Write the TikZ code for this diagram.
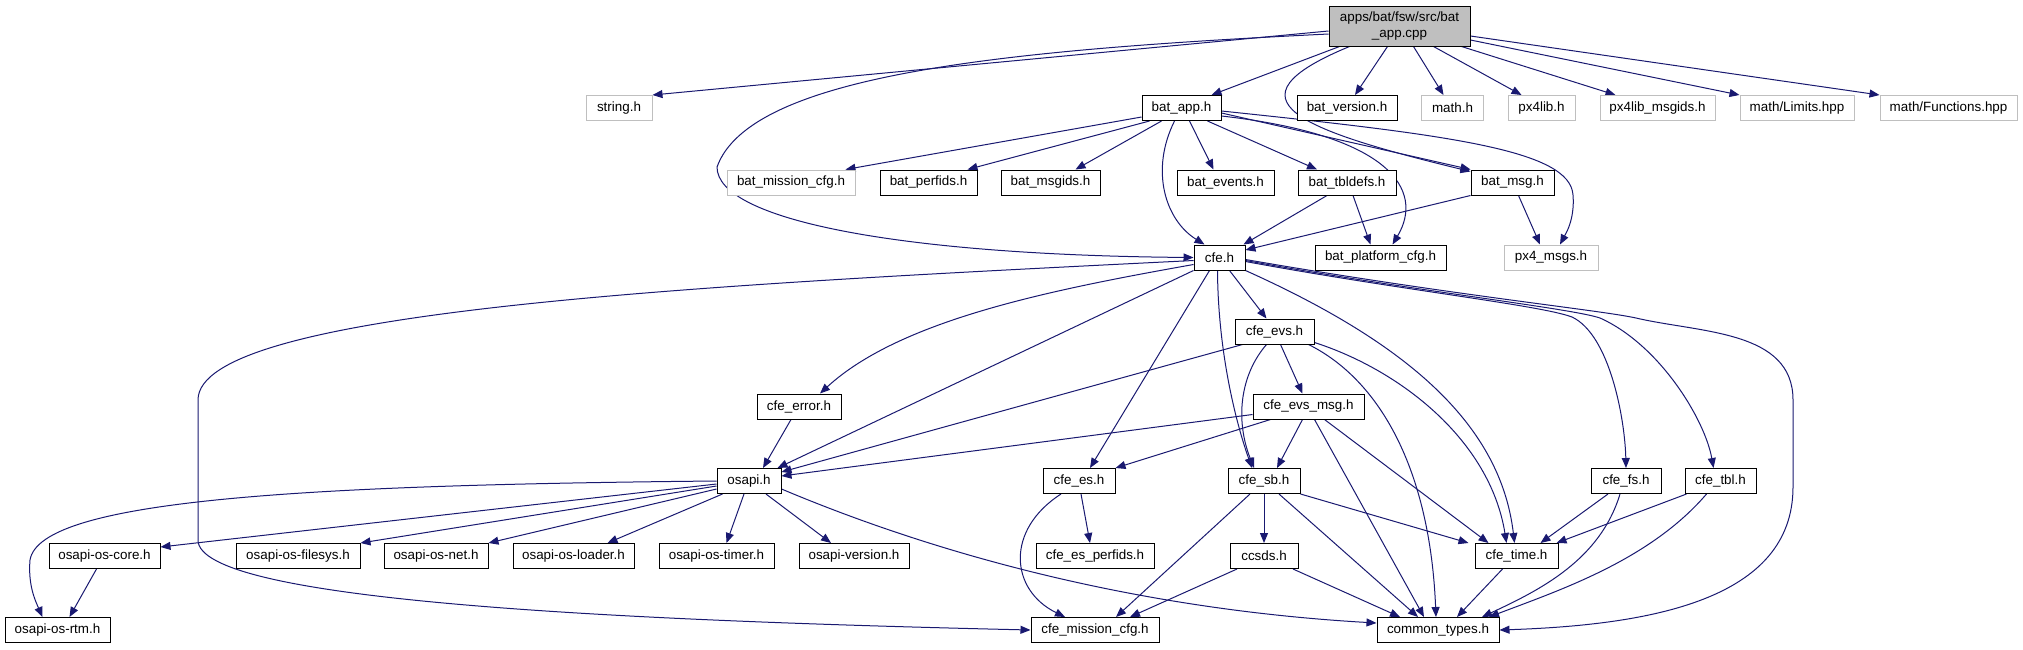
\documentclass[tikz,border=0pt]{standalone}
\usepackage{fontspec}
\setmainfont{Liberation Sans}
\usetikzlibrary{arrows.meta,backgrounds}
\definecolor{edgeblue}{HTML}{191970}
\definecolor{extgray}{HTML}{BFBFBF}

\begin{document}
\begin{tikzpicture}[x=0.5pt,y=-0.5pt,>={Triangle[length=5pt,width=4pt]},
  hfile/.style={draw=black,fill=white,line width=0.5pt,inner sep=0pt,
    minimum height=12.5pt,font=\fontsize{6.7}{8}\selectfont},
  extfile/.style={hfile,draw=extgray},
  rootfile/.style={hfile,fill=extgray,align=center,minimum height=20pt},
  bw/.style={minimum width=#1*0.5pt},
  inc/.style={->,edgeblue,line width=0.5pt}]
  \useasboundingbox (0,0) rectangle (2023,649);

  \node[rootfile,bw=141] (cpp) at (1399.5,26) {apps/bat/fsw/src/bat\\\_app.cpp};

  \node[extfile,bw=66] (string) at (619,108) {string.h};
  \node[hfile,bw=79] (batapp) at (1181.5,108) {bat\_app.h};
  \node[hfile,bw=100] (batver) at (1347,108) {bat\_version.h};
  \node[extfile,bw=62] (mathh) at (1452.5,108) {math.h};
  \node[extfile,bw=67] (pxlib) at (1541.5,108) {px4lib.h};
  \node[extfile,bw=115] (pxmsgids) at (1657.5,108) {px4lib\_msgids.h};
  \node[extfile,bw=114] (limits) at (1797,108) {math/Limits.hpp};
  \node[extfile,bw=137] (functions) at (1948.5,108) {math/Functions.hpp};

  \node[extfile,bw=128] (misscfg) at (791,182.5) {bat\_mission\_cfg.h};
  \node[hfile,bw=97] (perfids) at (928.5,182.5) {bat\_perfids.h};
  \node[hfile,bw=99] (msgids) at (1050.5,182.5) {bat\_msgids.h};
  \node[hfile,bw=97] (events) at (1225.5,182.5) {bat\_events.h};
  \node[hfile,bw=98] (tbldefs) at (1347,182.5) {bat\_tbldefs.h};
  \node[hfile,bw=83] (batmsg) at (1512.5,182.5) {bat\_msg.h};

  \node[hfile,bw=51] (cfe) at (1219.5,257.5) {cfe.h};
  \node[hfile,bw=131] (platcfg) at (1380.5,257.5) {bat\_platform\_cfg.h};
  \node[extfile,bw=94] (pxmsgs) at (1551,257.5) {px4\_msgs.h};
  \node[hfile,bw=79] (cfeevs) at (1274.5,331.5) {cfe\_evs.h};
  \node[hfile,bw=84] (cfeerror) at (799,406.5) {cfe\_error.h};
  \node[hfile,bw=111] (evsmsg) at (1308.5,406.5) {cfe\_evs\_msg.h};

  \node[hfile,bw=64] (osapi) at (749,481) {osapi.h};
  \node[hfile,bw=72] (cfees) at (1079,481) {cfe\_es.h};
  \node[hfile,bw=72] (cfesb) at (1264,481) {cfe\_sb.h};
  \node[hfile,bw=70] (cfefs) at (1626,481) {cfe\_fs.h};
  \node[hfile,bw=71] (cfetbl) at (1720.5,481) {cfe\_tbl.h};

  \node[hfile,bw=111] (oscore) at (104.5,556) {osapi-os-core.h};
  \node[hfile,bw=124] (osfilesys) at (298,556) {osapi-os-filesys.h};
  \node[hfile,bw=104] (osnet) at (436,556) {osapi-os-net.h};
  \node[hfile,bw=121] (osloader) at (573.5,556) {osapi-os-loader.h};
  \node[hfile,bw=115] (ostimer) at (716.5,556) {osapi-os-timer.h};
  \node[hfile,bw=110] (osversion) at (854,556) {osapi-version.h};
  \node[hfile,bw=118] (esperfids) at (1095,556) {cfe\_es\_perfids.h};
  \node[hfile,bw=68] (ccsds) at (1264,556) {ccsds.h};
  \node[hfile,bw=83] (cfetime) at (1516.5,556) {cfe\_time.h};

  \node[hfile,bw=105] (osrtm) at (57.5,630) {osapi-os-rtm.h};
  \node[hfile,bw=128] (cfgmission) at (1095,630) {cfe\_mission\_cfg.h};
  \node[hfile,bw=122] (common) at (1438,630) {common\_types.h};

  \begin{scope}[on background layer]
  % from the source file
  \draw[inc] ([yshift=-2.5pt]cpp.west) -- (string.north east);
  \draw[inc] ([yshift=-4pt]cpp.west) .. controls (1000,50) and (750,75) .. (717,167)
    .. controls (717,220) and (900,255) .. (cfe.west);
  \draw[inc] ([xshift=-30pt]cpp.south) -- ([xshift=15pt]batapp.north);
  \draw[inc] ([xshift=-6pt]cpp.south) -- ([xshift=4pt]batver.north);
  \draw[inc] ([xshift=7pt]cpp.south) -- ([xshift=-4.5pt]mathh.north);
  \draw[inc] ([xshift=17pt]cpp.south) -- ([xshift=-10pt]pxlib.north);
  \draw[inc] ([xshift=31pt]cpp.south) -- ([xshift=-21pt]pxmsgids.north);
  \draw[inc] ([yshift=-7pt]cpp.east) -- (limits.north west);
  \draw[inc] ([yshift=-5pt]cpp.east) -- (functions.north west);
  \draw[inc] ([xshift=-25pt]cpp.south) .. controls (1220,100) and (1300,130)
    .. ([yshift=-1pt]batmsg.north west);

  \draw[inc] ([yshift=-4.5pt]batapp.west) -- ([xshift=-5pt]misscfg.north east);
  \draw[inc] ([xshift=-16pt]batapp.south) -- ([xshift=-5pt]perfids.north east);
  \draw[inc] ([xshift=-10pt]batapp.south) -- ([xshift=12.5pt]msgids.north);
  \draw[inc] ([xshift=-3.5pt]batapp.south) .. controls (1150,170) and (1165,220)
    .. ([xshift=-7.5pt]cfe.north);
  \draw[inc] ([xshift=4pt]batapp.south) -- ([xshift=-6pt]events.north);
  \draw[inc] ([xshift=13pt]batapp.south) -- ([xshift=-15pt]tbldefs.north);
  \draw[inc] ([yshift=-2.5pt]batapp.east) -- (batmsg.north west);
  \draw[inc] ([yshift=-4pt]batapp.east) .. controls (1390,135) and (1425,190)
    .. ([xshift=6pt]platcfg.north);
  \draw[inc] ([yshift=-1.5pt]batapp.east) .. controls (1450,135) and (1570,150) .. (1573,195)
    .. controls (1575,220) and (1565,235) .. ([xshift=4.5pt]pxmsgs.north);

  \draw[inc] ([xshift=-10pt]tbldefs.south) -- ([xshift=-1pt]cfe.north east);
  \draw[inc] ([xshift=3pt]tbldefs.south) -- ([xshift=-5pt]platcfg.north);
  \draw[inc] (batmsg.south west) -- ([yshift=3.75pt]cfe.east);
  \draw[inc] ([xshift=3pt]batmsg.south) -- ([xshift=-5.5pt]pxmsgs.north);

  % cfe.h
  \draw[inc] ([xshift=5pt]cfe.south) -- ([xshift=-4pt]cfeevs.north);
  \draw[inc] ([yshift=-3.5pt]cfe.west) .. controls (1050,290) and (900,320)
    .. ([xshift=10.5pt]cfeerror.north);
  \draw[inc] (cfe.south west) -- ([xshift=-2pt]osapi.north east);
  \draw[inc] ([xshift=-5pt]cfe.south) -- ([xshift=5.5pt]cfees.north);
  \draw[inc] ([xshift=-1pt]cfe.south) .. controls (1218,350) and (1235,420)
    .. ([xshift=-6pt]cfesb.north);
  \draw[inc] (cfe.south east) .. controls (1400,340) and (1500,420)
    .. ([xshift=-1pt]cfetime.north);
  \draw[inc] ([yshift=-2pt]cfe.east) .. controls (1400,290) and (1540,305) .. (1572,317)
    .. controls (1610,335) and (1625,420) .. (cfefs.north);
  \draw[inc] ([yshift=-1.5pt]cfe.east) .. controls (1420,292) and (1570,308) .. (1600,318)
    .. controls (1660,345) and (1705,420) .. ([xshift=-3.5pt]cfetbl.north);
  \draw[inc] ([yshift=-1pt]cfe.east) .. controls (1450,295) and (1600,310) .. (1636,318)
    .. controls (1700,333) and (1793,330) .. (1793,400) -- (1793,487)
    .. controls (1793,600) and (1650,625) .. (common.east);
  \draw[inc] ([yshift=-1.5pt]cfe.west) .. controls (700,285) and (198,310) .. (198,400)
    -- (198,540) .. controls (198,600) and (600,620) .. (cfgmission.west);

  \draw[inc] ([xshift=-16pt]cfeevs.south) -- ([yshift=-2pt]osapi.north east);
  \draw[inc] ([xshift=3pt]cfeevs.south) -- ([xshift=-3pt]evsmsg.north);
  \draw[inc] ([xshift=-4pt]cfeevs.south) .. controls (1240,375) and (1235,420)
    .. ([xshift=-5pt]cfesb.north);
  \draw[inc] ([yshift=1pt]cfeevs.south east) .. controls (1400,370) and (1490,440)
    .. ([xshift=-5pt]cfetime.north);
  \draw[inc] ([xshift=-3pt]cfeevs.south east) .. controls (1380,380) and (1430,470)
    .. ([xshift=-1pt]common.north);

  \draw[inc] ([yshift=-4pt]evsmsg.west) -- ([yshift=-4pt]osapi.north east);
  \draw[inc] ([xshift=-19pt]evsmsg.south) -- (cfees.north east);
  \draw[inc] ([xshift=-3pt]evsmsg.south) -- ([xshift=6.5pt]cfesb.north);
  \draw[inc] ([xshift=8pt]evsmsg.south) -- ([xshift=-14pt]cfetime.north);
  \draw[inc] ([xshift=3pt]evsmsg.south) -- ([xshift=-7pt]common.north);
  \draw[inc] ([xshift=-4pt]cfeerror.south) -- ([xshift=7pt]osapi.north);

  % osapi.h
  \draw[inc] (osapi.west) .. controls (300,485) and (40,500) .. (30,560)
    .. controls (28,585) and (35,600) .. ([xshift=-7.5pt]osrtm.north);
  \draw[inc] ([yshift=-1.5pt]osapi.west) -- ([yshift=4.5pt]oscore.east);
  \draw[inc] ([yshift=-2.5pt]osapi.west) -- (osfilesys.north east);
  \draw[inc] ([yshift=-4pt]osapi.west) -- (osnet.north east);
  \draw[inc] ([xshift=3pt]osapi.south west) -- ([xshift=17pt]osloader.north);
  \draw[inc] ([xshift=-2.5pt]osapi.south) -- ([xshift=5pt]ostimer.north);
  \draw[inc] ([xshift=8.5pt]osapi.south) -- ([xshift=-11.5pt]osversion.north);
  \draw[inc] ([yshift=-4pt]osapi.east) .. controls (950,560) and (1150,610)
    .. ([yshift=3.5pt]common.west);
  \draw[inc] ([xshift=-4pt]oscore.south) -- ([xshift=6pt]osrtm.north);

  \draw[inc] ([xshift=1pt]cfees.south) -- ([xshift=-2.5pt]esperfids.north);
  \draw[inc] ([xshift=-9pt]cfees.south) .. controls (1005,530) and (1010,590)
    .. ([xshift=-15pt]cfgmission.north);
  \draw[inc] (cfesb.south) -- (ccsds.north);
  \draw[inc] ([xshift=-7pt]cfesb.south) -- ([xshift=10.5pt]cfgmission.north);
  \draw[inc] (cfesb.south east) -- ([xshift=-24pt]cfetime.north);
  \draw[inc] ([xshift=7.5pt]cfesb.south) -- ([xshift=-10pt]common.north);
  \draw[inc] ([xshift=-13.5pt]ccsds.south) -- ([xshift=17.5pt]cfgmission.north);
  \draw[inc] ([xshift=14.5pt]ccsds.south) -- ([xshift=-19pt]common.north);
  \draw[inc] ([xshift=-7pt]cfetime.south) -- ([xshift=9.5pt]common.north);
  \draw[inc] ([xshift=-9pt]cfefs.south) -- ([xshift=12pt]cfetime.north);
  \draw[inc] ([xshift=-3pt]cfefs.south) .. controls (1600,560) and (1540,590)
    .. ([xshift=22pt]common.north);
  \draw[inc] ([xshift=-17pt]cfetbl.south) -- ([xshift=20pt]cfetime.north);
  \draw[inc] ([xshift=-7pt]cfetbl.south) .. controls (1650,560) and (1560,590)
    .. ([xshift=25.5pt]common.north);
  \end{scope}
\end{tikzpicture}
\end{document}
